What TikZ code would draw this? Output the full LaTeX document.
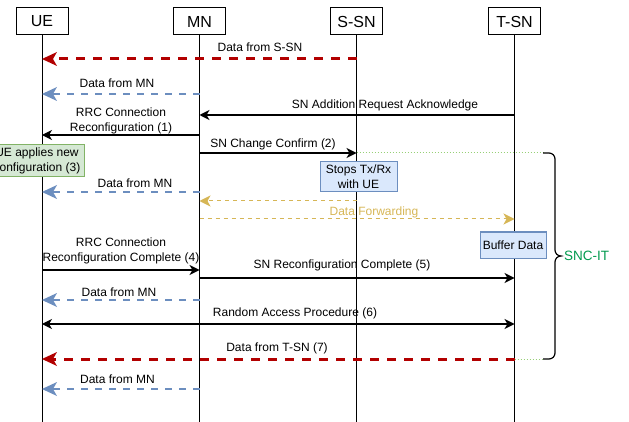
\documentclass[tikz,border=0pt]{standalone}
\usepackage{fontspec}
\setmainfont{Liberation Sans}
\usepackage{xcolor}
\usetikzlibrary{arrows.meta,positioning,calc}

\definecolor{datared}{HTML}{B20000}
\definecolor{datablue}{HTML}{6C8EBF}
\definecolor{fwdorange}{HTML}{D6B656}
\definecolor{itgreen}{HTML}{97D077}
\definecolor{sncgreen}{HTML}{00994D}
\definecolor{boxblue}{HTML}{DAE8FC}
\definecolor{boxgreen}{HTML}{D5E8D4}
\definecolor{edgegreen}{HTML}{82B366}

\begin{document}
\begin{tikzpicture}[
    x=1pt, y=-1pt,
    font=\fontsize{12}{15}\selectfont,
    entity/.style={rectangle, draw, fill=white, line width=1pt, minimum width=52pt, minimum height=27pt, inner sep=0pt, font=\fontsize{16}{18}\selectfont},
    lifeline/.style={line width=1pt},
    msg/.style={line width=1.2pt, -{Stealth[length=10pt, width=10pt, inset=3pt]}},
    redmsg/.style={draw=datared, line width=3pt, dash pattern=on 9pt off 8pt, -{Stealth[length=15pt, width=14pt, inset=4pt, line width=0pt]}},
    bluemsg/.style={draw=datablue, line width=2pt, dash pattern=on 7pt off 7pt, -{Stealth[length=15pt, width=14pt, inset=4pt, line width=0pt]}},
    fwdmsg/.style={draw=fwdorange, line width=1pt, dash pattern=on 4pt off 4pt, -{Stealth[length=11pt, width=11pt, inset=3pt]}},
    itline/.style={draw=itgreen, line width=1pt, dotted},
    lbl/.style={inner sep=1pt, align=center},
    bluenote/.style={rectangle, draw=datablue, fill=boxblue, line width=1pt, inner sep=1pt, align=center},
    greennote/.style={rectangle, draw=edgegreen, fill=boxgreen, line width=1pt, inner sep=1pt, align=center}
]
    \useasboundingbox (0,0) rectangle (629,422);

    % entities
    \node[entity] (ue) at (42,21.5) {UE};
    \node[entity] (mn) at (199.5,21.5) {MN};
    \node[entity] (ssn) at (356.5,21.5) {S-SN};
    \node[entity] (tsn) at (514.5,21.5) {T-SN};

    % message rows
    \coordinate (bot) at (0,422);
    \coordinate (m1) at (0,59);
    \coordinate (m2) at (0,94);
    \coordinate (m3) at (0,115);
    \coordinate (m4) at (0,135);
    \coordinate (m5) at (0,153);
    \coordinate (m6) at (0,192);
    \coordinate (m7) at (0,201);
    \coordinate (m8) at (0,219);
    \coordinate (m9) at (0,270);
    \coordinate (m10) at (0,278);
    \coordinate (m11) at (0,300);
    \coordinate (m12) at (0,324);
    \coordinate (m13) at (0,359);
    \coordinate (m14) at (0,389);

    % lifelines
    \draw[lifeline] (ue) -- (ue |- bot);
    \draw[lifeline] (mn) -- (mn |- bot);
    \draw[lifeline] (ssn) -- (ssn |- bot);
    \draw[lifeline] (tsn) -- (tsn |- bot);

    % messages
    \draw[redmsg] (ssn |- m1) -- (ue |- m1);
    \node[lbl] (l1) at (260,47) {Data from S-SN};
    \draw[bluemsg] (mn |- m2) -- (ue |- m2);
    \node[lbl] (l2) at (117,83) {Data from MN};
    \draw[msg] (tsn |- m3) -- (mn |- m3);
    \node[lbl] (l3) at (385,105) {SN Addition Request Acknowledge};
    \draw[msg] (mn |- m4) -- (ue |- m4);
    \node[lbl] (l4) at (121,120.5) {RRC Connection\\Reconfiguration (1)};
    \draw[msg] (mn |- m5) -- (ssn |- m5);
    \node[lbl] (l5) at (273,144) {SN Change Confirm (2)};
    \draw[bluemsg] (mn |- m6) -- (ue |- m6);
    \node[lbl] (l6) at (135,183) {Data from MN};
    \draw[fwdmsg] (ssn |- m7) -- (mn |- m7);
    \draw[fwdmsg] (mn |- m8) -- (tsn |- m8);
    \node[lbl, text=fwdorange] (l8) at (374,212) {Data Forwarding};
    \draw[msg] (ue |- m9) -- (mn |- m9);
    \node[lbl] (l9) at (121,250.5) {RRC Connection\\Reconfiguration Complete (4)};
    \draw[msg] (mn |- m10) -- (tsn |- m10);
    \node[lbl] (l10) at (342,265) {SN Reconfiguration Complete (5)};
    \draw[bluemsg] (mn |- m11) -- (ue |- m11);
    \node[lbl] (l11) at (119,292) {Data from MN};
    \draw[msg, {Stealth[length=10pt, width=10pt, inset=3pt]}-{Stealth[length=10pt, width=10pt, inset=3pt]}] (ue |- m12) -- (tsn |- m12);
    \node[lbl] (l12) at (295,313) {Random Access Procedure (6)};
    \draw[redmsg] (tsn |- m13) -- (ue |- m13);
    \node[lbl] (l13) at (277,348) {Data from T-SN (7)};
    \draw[bluemsg] (mn |- m14) -- (ue |- m14);
    \node[lbl] (l14) at (117.5,379) {Data from MN};

    % notes
    \node[greennote, minimum width=94pt, minimum height=32pt] (apply) at (37,161) {UE applies new\\configuration (3)};
    \node[bluenote, minimum width=77pt, minimum height=30pt] (stops) at (358.5,177) {Stops Tx/Rx\\with UE};
    \node[bluenote, minimum width=66pt, minimum height=26pt] (buffer) at (513,245) {Buffer Data};

    % SNC-IT interval
    \coordinate (bt) at (543,153);
    \coordinate (bb) at (543,359);
    \draw[itline] (ssn |- m5) -- (bt);
    \draw[itline] (tsn |- m13) -- (bb);
    \draw[line width=1.2pt] (bt) -- (549,153) to[out=0,in=90] (555,159) -- (555,250)
        to[out=-90,in=180] (561,256) to[out=180,in=90] (555,262) -- (555,353)
        to[out=-90,in=0] (549,359) -- (bb);
    \node[lbl, text=sncgreen, font=\fontsize{13.5}{16}\selectfont, right=2pt of {(561,256)}] (snc) {SNC-IT};
\end{tikzpicture}
\end{document}
